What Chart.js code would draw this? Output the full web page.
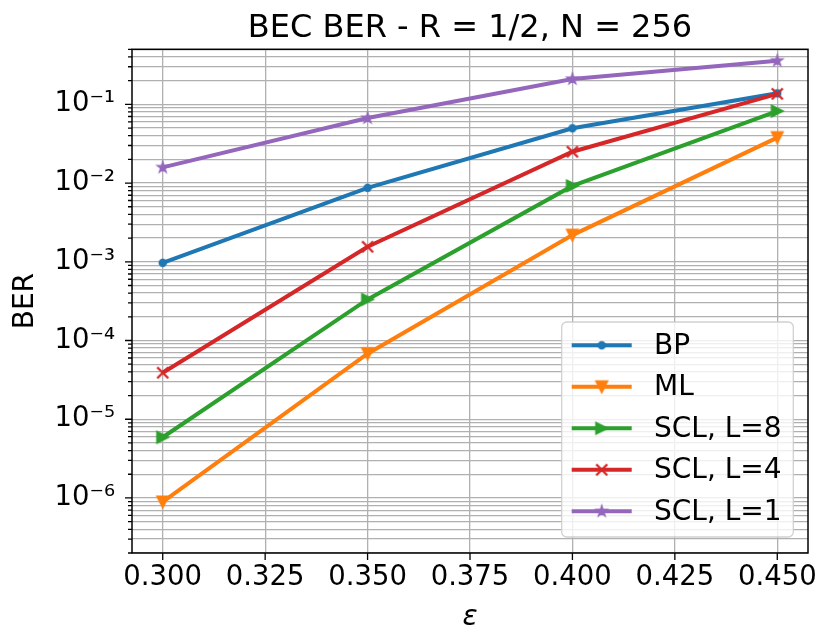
<!DOCTYPE html>
<html>
<head>
<meta charset="utf-8">
<script src="https://cdn.jsdelivr.net/npm/chart.js@4.4.1/dist/chart.umd.min.js"></script>
<style>
  html, body { margin: 0; padding: 0; background: #ffffff; }
  #wrap { width: 831px; height: 644px; }
  canvas { display: block; }
</style>
</head>
<body>
<div id="wrap"><canvas id="c" width="831" height="644"></canvas></div>
<script>
// ---------- data ----------
const titleText = 'BEC BER - R = 1/2, N = 256';
const xLabel = 'ε';
const yLabel = 'BER';
const epsilon = [0.300, 0.350, 0.400, 0.450];
const berBP   = [9.7e-4, 8.7e-3, 4.96e-2, 1.38e-1];
const berML   = [8.9e-7, 6.8e-5, 2.18e-3, 3.78e-2];
const berSCL8 = [5.9e-6, 3.33e-4, 9.2e-3, 8.2e-2];
const berSCL4 = [3.9e-5, 1.55e-3, 2.5e-2, 1.36e-1];
const berSCL1 = [1.58e-2, 6.7e-2, 2.1e-1, 3.58e-1];
const seriesNames = ['BP', 'ML', 'SCL, L=8', 'SCL, L=4', 'SCL, L=1'];
const xTicks = [0.300, 0.325, 0.350, 0.375, 0.400, 0.425, 0.450];
const xLimits = [0.2925, 0.4575];
const yLimits = [2e-7, 0.5];
const yDecades = [-7, -6, -5, -4, -3, -2, -1];
const yMantissas = [1, 2, 3, 4, 5, 6, 7, 8, 9];

// ---------- styles ----------
const colors = ['#1f77b4', '#ff7f0e', '#2ca02c', '#d62728', '#9467bd'];
const markerKinds = ['point', 'triDown', 'triRight', 'x', 'star'];
const FONT = "'DejaVu Sans', 'Liberation Sans', sans-serif";

const seriesData = [berBP, berML, berSCL8, berSCL4, berSCL1];

// y ticks (major at decades, minor in between)
const yTickObjs = [];
yDecades.forEach(d => {
  yMantissas.forEach(m => {
    const v = m * Math.pow(10, d);
    if (v >= yLimits[0] * (1 - 1e-9) && v <= yLimits[1] * (1 + 1e-9)) {
      yTickObjs.push({ value: v, major: m === 1, exp: d });
    }
  });
});

const supMap = { '-': '\u207B', '0': '\u2070', '1': '\u00B9', '2': '\u00B2', '3': '\u00B3',
  '4': '\u2074', '5': '\u2075', '6': '\u2076', '7': '\u2077', '8': '\u2078', '9': '\u2079' };
function sup(n) { return String(n).split('').map(ch => supMap[ch]).join(''); }

function makeMarker(kind, color) {
  const c = document.createElement('canvas');
  c.width = 22; c.height = 22;
  const g = c.getContext('2d');
  g.translate(11, 11);
  g.fillStyle = color; g.strokeStyle = color;
  g.lineJoin = 'miter';
  if (kind === 'point') {
    g.beginPath(); g.arc(0, 0, 3.6, 0, Math.PI * 2); g.fill();
    g.lineWidth = 1.2; g.stroke();
  } else if (kind === 'triDown') {
    const h = 5.8;
    g.beginPath(); g.moveTo(0, h); g.lineTo(-h, -h); g.lineTo(h, -h); g.closePath();
    g.fill(); g.lineWidth = 1.5; g.stroke();
  } else if (kind === 'triRight') {
    const h = 5.8;
    g.beginPath(); g.moveTo(h, 0); g.lineTo(-h, -h); g.lineTo(-h, h); g.closePath();
    g.fill(); g.lineWidth = 1.5; g.stroke();
  } else if (kind === 'x') {
    const h = 5.5;
    g.lineWidth = 2.4; g.lineCap = 'butt';
    g.beginPath(); g.moveTo(-h, -h); g.lineTo(h, h); g.moveTo(-h, h); g.lineTo(h, -h); g.stroke();
  } else if (kind === 'star') {
    const R = 6.0, r = R * 0.381966;
    g.beginPath();
    for (let k = 0; k < 10; k++) {
      const rad = (k % 2 === 0) ? R : r;
      const a = -Math.PI / 2 + k * Math.PI / 5;
      const px = rad * Math.cos(a), py = rad * Math.sin(a);
      if (k === 0) g.moveTo(px, py); else g.lineTo(px, py);
    }
    g.closePath(); g.fill(); g.lineWidth = 1.2; g.stroke();
  }
  return c;
}
const markerImgs = markerKinds.map((k, i) => makeMarker(k, colors[i]));

const datasets = seriesData.map((arr, i) => ({
  label: seriesNames[i],
  data: epsilon.map((x, j) => ({ x: x, y: arr[j] })),
  borderColor: colors[i],
  backgroundColor: colors[i],
  borderWidth: 4,
  pointStyle: markerImgs[i],
  pointRadius: 7,
  pointHoverRadius: 7,
  tension: 0,
  fill: false,
  order: seriesData.length - i
}));

// ---------- title centred over the axes ----------
const axesTitlePlugin = {
  id: 'axesTitle',
  afterDraw(chart) {
    const { ctx, chartArea: a } = chart;
    ctx.save();
    ctx.font = '32px ' + FONT;
    ctx.fillStyle = '#000000';
    ctx.textAlign = 'center';
    ctx.textBaseline = 'alphabetic';
    ctx.fillText(titleText, (a.left + a.right) / 2, a.top - 12.6);
    ctx.restore();
  }
};

// ---------- frame / ticks ----------
const framePlugin = {
  id: 'framePlugin',
  afterDatasetsDraw(chart) {
    const { ctx, chartArea: a, scales } = chart;
    ctx.save();
    ctx.strokeStyle = '#000000';
    ctx.lineWidth = 1.5;
    ctx.strokeRect(a.left, a.top, a.right - a.left, a.bottom - a.top);
    ctx.lineWidth = 1.3;
    ctx.beginPath();
    xTicks.forEach(v => {
      const px = scales.x.getPixelForValue(v);
      ctx.moveTo(px, a.bottom); ctx.lineTo(px, a.bottom + 7);
    });
    yTickObjs.forEach(t => {
      const py = scales.y.getPixelForValue(t.value);
      const len = t.major ? 7 : 4;
      ctx.moveTo(a.left - len, py); ctx.lineTo(a.left, py);
    });
    ctx.stroke();
    ctx.restore();
  }
};

// ---------- legend ----------
const legendPlugin = {
  id: 'mplLegend',
  afterDraw(chart) {
    const { ctx, chartArea: a } = chart;
    const boxW = 231.6, boxH = 215;
    const x0 = a.right - 14.7 - boxW;
    const y0 = a.bottom - 16 - boxH;
    ctx.save();
    ctx.beginPath();
    if (ctx.roundRect) ctx.roundRect(x0, y0, boxW, boxH, 5); else ctx.rect(x0, y0, boxW, boxH);
    ctx.fillStyle = 'rgba(255,255,255,0.8)';
    ctx.fill();
    ctx.strokeStyle = 'rgba(204,204,204,0.9)';
    ctx.lineWidth = 1.3;
    ctx.stroke();
    const rowStart = y0 + 23.3, rowGap = 41.5;
    ctx.font = '28px ' + FONT;
    ctx.textBaseline = 'middle';
    ctx.textAlign = 'left';
    seriesNames.forEach((name, i) => {
      const cy = rowStart + i * rowGap;
      const lx0 = x0 + 10, lx1 = x0 + 70;
      ctx.strokeStyle = colors[i];
      ctx.lineWidth = 4;
      ctx.lineCap = 'butt';
      ctx.beginPath(); ctx.moveTo(lx0, cy); ctx.lineTo(lx1, cy); ctx.stroke();
      const img = markerImgs[i];
      ctx.drawImage(img, (lx0 + lx1) / 2 - img.width / 2, cy - img.height / 2);
      ctx.fillStyle = '#000000';
      ctx.fillText(name, x0 + 92.3, cy + 1);
    });
    ctx.restore();
  }
};

new Chart(document.getElementById('c'), {
  type: 'line',
  data: { datasets: datasets },
  options: {
    responsive: false,
    animation: false,
    devicePixelRatio: 1,
    layout: { padding: { left: 0, right: 23, top: 49.3, bottom: 0 } },
    plugins: {
      legend: { display: false },
      tooltip: { enabled: false },
      title: { display: false }
    },
    scales: {
      x: {
        type: 'linear',
        min: xLimits[0],
        max: xLimits[1],
        afterBuildTicks: s => { s.ticks = xTicks.map(v => ({ value: v })); },
        afterFit: s => { s.height = 91; },
        ticks: {
          callback: v => Number(v).toFixed(3),
          color: '#000000',
          font: { family: FONT, size: 27.5 },
          padding: 8,
          maxRotation: 0,
          autoSkip: false
        },
        grid: { color: '#b0b0b0', lineWidth: 1.3, drawTicks: false },
        border: { display: false },
        title: {
          display: true,
          text: xLabel,
          color: '#000000',
          font: { family: FONT, size: 28, style: 'italic' },
          padding: { top: 0, bottom: 9 }
        }
      },
      y: {
        type: 'logarithmic',
        min: yLimits[0],
        max: yLimits[1],
        afterBuildTicks: s => { s.ticks = yTickObjs.map(t => ({ value: t.value, major: t.major })); },
        afterFit: s => { s.width = 132; },
        ticks: {
          callback: (v) => {
            const e = Math.log10(v);
            const re = Math.round(e);
            if (Math.abs(e - re) < 1e-6 && re >= -6 && re <= -1) return '10' + sup(re);
            return '';
          },
          color: '#000000',
          font: { family: FONT, size: 27.5 },
          padding: 17,
          autoSkip: false
        },
        grid: { color: '#b0b0b0', lineWidth: 1.3, drawTicks: false },
        border: { display: false },
        title: {
          display: true,
          text: yLabel,
          color: '#000000',
          font: { family: FONT, size: 28 },
          padding: { top: 8.5, bottom: 0 }
        }
      }
    }
  },
  plugins: [framePlugin, legendPlugin, axesTitlePlugin]
});
</script>
</body>
</html>
